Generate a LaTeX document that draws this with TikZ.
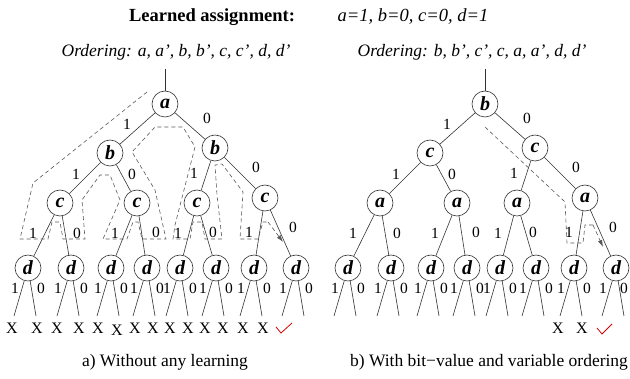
\documentclass[tikz,border=0pt]{standalone}
\usepackage{fontspec}
\setmainfont{Liberation Serif}
\usetikzlibrary{arrows.meta}
\tikzset{
  vnode/.style={circle, draw=black!80, line width=0.6pt, minimum size=26pt, inner sep=0pt,
    font=\fontsize{20}{20}\selectfont\bfseries\itshape},
  edge/.style={draw=black!80, line width=0.6pt},
  lab/.style={inner sep=0pt, font=\fontsize{15.5}{15.5}\selectfont},
  trace/.style={draw=black!65, dash pattern=on 4pt off 3pt, line width=0.6pt},
  tracearrow/.style={trace, -{Latex[length=7pt,width=4.5pt]}},
  xmark/.style={inner sep=0pt, font=\fontsize{16}{16}\selectfont},
  okmark/.style={draw=red!85!black, line width=0.8pt},
  titlefont/.style={inner sep=0pt, anchor=base, font=\fontsize{18.5}{18.5}\selectfont\bfseries},
  assignfont/.style={inner sep=0pt, anchor=base, font=\fontsize{18.5}{18.5}\selectfont\itshape},
  orderfont/.style={inner sep=0pt, anchor=base, font=\fontsize{17.5}{17.5}\selectfont\itshape},
  capfont/.style={inner sep=0pt, anchor=base, font=\fontsize{17.5}{17.5}\selectfont},
}
\newcommand\mytree[5]{%
  \coordinate (#1top) at (165,69);
  \node[vnode] (#1r) at (165,104) {#2};
  \node[vnode] (#1m1) at (110,153) {#3};
  \node[vnode] (#1m2) at (215,148) {#3};
  \node[vnode] (#1n1) at (60,203) {#4};
  \node[vnode] (#1n2) at (137,203) {#4};
  \node[vnode] (#1n3) at (197,203) {#4};
  \node[vnode] (#1n4) at (265,198) {#4};
  \foreach \i/\x in {1/28,2/71,3/111,4/147,5/180,6/216,7/254,8/296} {
    \node[vnode] (#1d\i) at (\x,268) {d};
    \coordinate (#1lA\i) at (\x-14,316);
    \coordinate (#1lB\i) at (\x+8,316);
    \draw[edge] (#1d\i) -- (#1lA\i);
    \draw[edge] (#1d\i) -- (#1lB\i);
    \node[lab] at (\x-13,288) {1};
  }
  \foreach \x in {28,71,111,147,180,216,254} {
    \node[lab] at (\x+13,288) {0};
  }
  \node[lab] at (#5,288) {0};
  \draw[edge] (#1top) -- (#1r);
  \draw[edge] (#1r) -- (#1m1);
  \draw[edge] (#1r) -- (#1m2);
  \draw[edge] (#1m1) -- (#1n1);
  \draw[edge] (#1m1) -- (#1n2);
  \draw[edge] (#1m2) -- (#1n3);
  \draw[edge] (#1m2) -- (#1n4);
  \draw[edge] (#1n1) -- (#1d1);
  \draw[edge] (#1n1) -- (#1d2);
  \draw[edge] (#1n2) -- (#1d3);
  \draw[edge] (#1n2) -- (#1d4);
  \draw[edge] (#1n3) -- (#1d5);
  \draw[edge] (#1n3) -- (#1d6);
  \draw[edge] (#1n4) -- (#1d7);
  \draw[edge] (#1n4) -- (#1d8);
  \node[lab] at (127,124) {1};
  \node[lab] at (207,118) {0};
  \node[lab] at (76,174) {1};
  \node[lab] at (132,174) {0};
  \node[lab] at (194,173) {1};
  \node[lab] at (256,167) {0};
  \node[lab] at (33,233) {1};
  \node[lab] at (77,233) {0};
  \node[lab] at (115,233) {1};
  \node[lab] at (156,232) {0};
  \node[lab] at (178,233) {1};
  \node[lab] at (213,232) {0};
  \node[lab] at (249,232) {1};
  \node[lab] at (293,227) {0};
}
\begin{document}
\begin{tikzpicture}[x=1pt,y=-1pt]
  \useasboundingbox (0,0) rectangle (630,379);
  % titles
  \node[titlefont] (title) at (212,21.5) {Learned assignment:};
  \node[assignfont] (assign) at (413,21.5) {a=1, b=0, c=0, d=1};
  \node[orderfont] (ordL) at (176,57) {Ordering: a, a’, b, b’, c, c’, d, d’};
  \node[orderfont] (ordR) at (472,57) {Ordering: b, b’, c’, c, a, a’, d, d’};
  % trees
  \mytree{L}{a}{b}{c}{309}
  \begin{scope}[xshift=320pt]
    \mytree{R}{b}{c}{a}{304}
  \end{scope}
  % left search trace
  \draw[trace] (147,92) -- (33,183) -- (20,239) -- (48,239) -- (52,222) -- (60,222) -- (63,239)
    -- (85,239) -- (82,200) -- (100,175) -- (110,175) -- (120,200) -- (103,239)
    -- (127,239) -- (133,222) -- (138,222) -- (142,239) -- (166,239) -- (155,190)
    -- (132,152) -- (155,127) -- (183,127) -- (195,147) -- (175,225) -- (173,239)
    -- (190,239) -- (193,222) -- (202,222) -- (205,239) -- (222,239) -- (217,195)
    -- (215,165) -- (222,164) -- (243,192) -- (240,239) -- (258,239) -- (263,222) -- (268,222);
  \draw[tracearrow] (268,222) -- (283,242);
  % right search trace
  \draw[trace] (485,127) -- (565,202) -- (567,243) -- (583,243) -- (585,225) -- (593,225);
  \draw[tracearrow] (593,225) -- (603,247);
  % leaf results, left
  \foreach \x in {12,37,57,79,98,135,153,170,188,205,223,243,263} {
    \node[xmark] at (\x,328) {X};
  }
  \node[xmark] at (117,330) {X};
  \draw[okmark] (276,327) -- (281,333) -- (292,323);
  % leaf results, right
  \node[xmark] at (558,328) {X};
  \node[xmark] at (582,328) {X};
  \draw[okmark] (597,328) -- (602,334) -- (612,324);
  % captions
  \node[capfont] (capA) at (165,367) {a) Without any learning};
  \node[capfont] (capB) at (489,367) {b) With bit−value and variable ordering};
\end{tikzpicture}
\end{document}
